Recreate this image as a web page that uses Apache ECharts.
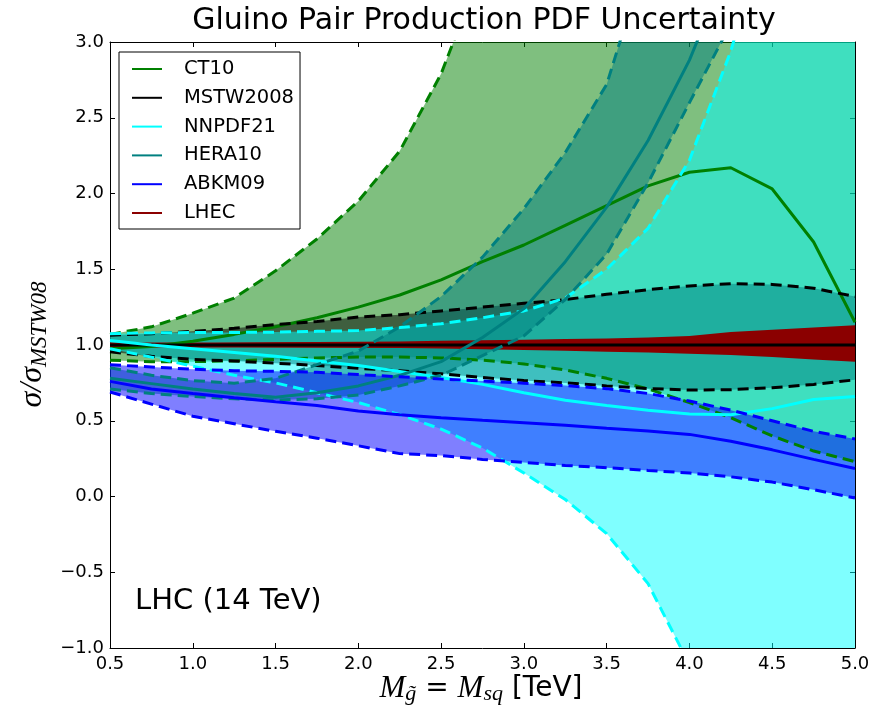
<!DOCTYPE html>
<html>
<head>
<meta charset="utf-8">
<script src="https://cdn.jsdelivr.net/npm/echarts@6/dist/echarts.min.js"></script>
<style>
  html, body { margin: 0; padding: 0; background: #fff; }
  #chart { width: 889px; height: 709px; }
</style>
</head>
<body>
<div id="chart"></div>
<script>
// Gluino mass grid [TeV]
const mass = [0.5, 0.75, 1.0, 1.25, 1.5, 1.75, 2.0, 2.25, 2.5, 2.75, 3.0, 3.25, 3.5, 3.75, 4.0, 4.25, 4.5, 4.75, 5.0];

// Cross-section ratios to MSTW08: central value and PDF uncertainty envelope
const ct10Central = [0.975, 0.99, 1.025, 1.07, 1.12, 1.18, 1.25, 1.33, 1.43, 1.55, 1.66, 1.79, 1.92, 2.05, 2.14, 2.17, 2.03, 1.68, 1.15];
const ct10Upper   = [1.07, 1.12, 1.21, 1.31, 1.49, 1.70, 1.95, 2.28, 2.79, 3.5, 4.3, 5.2, 6.2, 7.3, 8.5, 9.8, 11.2, 12.7, 14.3];
const ct10Lower   = [0.90, 0.89, 0.89, 0.895, 0.905, 0.915, 0.92, 0.92, 0.915, 0.90, 0.875, 0.835, 0.78, 0.71, 0.62, 0.52, 0.40, 0.30, 0.23];

const mstwCentral = [1, 1, 1, 1, 1, 1, 1, 1, 1, 1, 1, 1, 1, 1, 1, 1, 1, 1, 1];
const mstwUpper   = [1.065, 1.075, 1.09, 1.11, 1.135, 1.155, 1.185, 1.20, 1.225, 1.25, 1.275, 1.30, 1.335, 1.365, 1.39, 1.405, 1.40, 1.375, 1.32];
const mstwLower   = [0.955, 0.925, 0.905, 0.894, 0.88, 0.865, 0.846, 0.83, 0.81, 0.785, 0.765, 0.75, 0.73, 0.713, 0.703, 0.705, 0.718, 0.74, 0.77];

const nnpdfCentral = [1.03, 1.00, 0.975, 0.95, 0.925, 0.895, 0.865, 0.825, 0.785, 0.74, 0.685, 0.635, 0.60, 0.57, 0.545, 0.54, 0.58, 0.64, 0.66];
const nnpdfUpper   = [1.075, 1.08, 1.082, 1.083, 1.085, 1.09, 1.095, 1.115, 1.14, 1.18, 1.225, 1.31, 1.50, 1.77, 2.22, 2.94, 3.9, 5.0, 6.3];
const nnpdfLower   = [0.975, 0.92, 0.86, 0.80, 0.75, 0.685, 0.62, 0.54, 0.445, 0.32, 0.155, -0.02, -0.245, -0.575, -1.11, -1.9, -2.8, -3.9, -5.2];

const heraCentral = [0.78, 0.745, 0.71, 0.68, 0.655, 0.685, 0.73, 0.80, 0.89, 1.05, 1.24, 1.55, 1.91, 2.35, 2.88, 3.55, 4.3, 5.2, 6.2];
const heraUpper   = [0.85, 0.80, 0.765, 0.748, 0.78, 0.87, 0.96, 1.12, 1.32, 1.58, 1.90, 2.27, 2.72, 3.6, 4.5, 5.5, 6.7, 8.0, 9.5];
const heraLower   = [0.71, 0.68, 0.66, 0.645, 0.637, 0.645, 0.67, 0.73, 0.80, 0.93, 1.06, 1.30, 1.60, 2.07, 2.60, 3.12, 3.8, 4.6, 5.5];

const abkmCentral = [0.76, 0.71, 0.68, 0.652, 0.625, 0.60, 0.565, 0.54, 0.52, 0.503, 0.487, 0.47, 0.45, 0.432, 0.41, 0.365, 0.308, 0.245, 0.185];
const abkmUpper   = [0.87, 0.855, 0.84, 0.83, 0.826, 0.82, 0.805, 0.79, 0.775, 0.762, 0.748, 0.732, 0.712, 0.68, 0.63, 0.57, 0.50, 0.43, 0.38];
const abkmLower   = [0.69, 0.61, 0.53, 0.48, 0.43, 0.385, 0.335, 0.283, 0.27, 0.245, 0.225, 0.205, 0.19, 0.172, 0.155, 0.13, 0.095, 0.045, -0.01];

const lhecCentral = [1, 1, 1, 1, 1, 1, 1, 1, 1, 1, 1, 1, 1, 1, 1, 1, 1, 1, 1];
const lhecUpper   = [1.008, 1.01, 1.012, 1.015, 1.018, 1.02, 1.022, 1.023, 1.028, 1.032, 1.035, 1.04, 1.043, 1.05, 1.06, 1.085, 1.10, 1.115, 1.13];
const lhecLower   = [0.992, 0.99, 0.988, 0.986, 0.985, 0.984, 0.982, 0.98, 0.977, 0.972, 0.967, 0.962, 0.956, 0.95, 0.943, 0.934, 0.92, 0.905, 0.89];

const pdfNames = ['CT10', 'MSTW2008', 'NNPDF21', 'HERA10', 'ABKM09', 'LHEC'];
const xTicks = { min: 0.5, max: 5.0, step: 0.5 };
const yTicks = { min: -1.0, max: 3.0, step: 0.5 };

const pdfSets = [
  { name: 'CT10',     color: '#008000', central: ct10Central,  upper: ct10Upper,  lower: ct10Lower,  alpha: 0.5 },
  { name: 'MSTW2008', color: '#000000', central: mstwCentral,  upper: mstwUpper,  lower: mstwLower,  alpha: 0.5 },
  { name: 'NNPDF21',  color: '#00ffff', central: nnpdfCentral, upper: nnpdfUpper, lower: nnpdfLower, alpha: 0.5 },
  { name: 'HERA10',   color: '#008080', central: heraCentral,  upper: heraUpper,  lower: heraLower,  alpha: 0.5 },
  { name: 'ABKM09',   color: '#0000ff', central: abkmCentral,  upper: abkmUpper,  lower: abkmLower,  alpha: 0.5 }
];
const lhec = { name: 'LHEC', color: '#8b0000', central: lhecCentral, upper: lhecUpper, lower: lhecLower, alpha: 1 };

// Filled envelope between lower and upper curve, mapped through the cartesian axes
function band(set) {
  return {
    type: 'custom',
    name: set.name + ' band',
    coordinateSystem: 'cartesian2d',
    clip: true,
    silent: true,
    z: 1,
    data: [[mass[0], set.lower[0]]],
    renderItem: function (params, api) {
      const pts = [];
      for (let i = 0; i < mass.length; i++) pts.push(api.coord([mass[i], set.upper[i]]));
      for (let i = mass.length - 1; i >= 0; i--) pts.push(api.coord([mass[i], set.lower[i]]));
      return { type: 'polygon', shape: { points: pts }, style: { fill: set.color, opacity: set.alpha } };
    }
  };
}

function curve(name, values, color, width, dashed) {
  return {
    type: 'line',
    name: name,
    data: mass.map((m, i) => [m, values[i]]),
    symbol: 'none',
    showSymbol: false,
    clip: true,
    silent: true,
    z: 3,
    lineStyle: { color: color, width: width, type: dashed ? [11, 6] : 'solid' },
    itemStyle: { color: color }
  };
}

const series = [];
pdfSets.forEach(s => series.push(band(s)));
series.push(band(lhec));
series.push(curve('LHEC', lhec.central, lhec.color, 5, false));
pdfSets.forEach(s => {
  series.push(curve(s.name + ' upper', s.upper, s.color, 3, true));
  series.push(curve(s.name + ' lower', s.lower, s.color, 3, true));
  series.push(curve(s.name, s.central, s.color, 3, false));
});

const tickFont = { fontFamily: 'DejaVu Sans', fontSize: 18, color: '#000' };
const frameLine = { show: true, onZero: false, lineStyle: { color: '#000', width: 1 } };
const ticks = { show: true, inside: true, length: 5, lineStyle: { color: '#000', width: 1 } };
const fmt = v => (v < 0 ? '\u2212' : '') + Math.abs(v).toFixed(1);

const chart = echarts.init(document.getElementById('chart'), null, { renderer: 'canvas' });
chart.setOption({
  animation: false,
  backgroundColor: '#fff',
  grid: { left: 110, right: 34, top: 42, bottom: 61, containLabel: false },
  xAxis: [
    { type: 'value', position: 'bottom', min: xTicks.min, max: xTicks.max, interval: xTicks.step,
      axisLine: frameLine, axisTick: ticks, splitLine: { show: false },
      axisLabel: Object.assign({ margin: 7, formatter: fmt, showMinLabel: true, showMaxLabel: true }, tickFont) },
    { type: 'value', position: 'top', min: xTicks.min, max: xTicks.max, interval: xTicks.step,
      axisLine: frameLine, axisTick: ticks, splitLine: { show: false }, axisLabel: { show: false } }
  ],
  yAxis: [
    { type: 'value', position: 'left', min: yTicks.min, max: yTicks.max, interval: yTicks.step,
      axisLine: frameLine, axisTick: ticks, splitLine: { show: false },
      axisLabel: Object.assign({ margin: 6, formatter: fmt, showMinLabel: true, showMaxLabel: true }, tickFont) },
    { type: 'value', position: 'right', min: yTicks.min, max: yTicks.max, interval: yTicks.step,
      axisLine: frameLine, axisTick: ticks, splitLine: { show: false }, axisLabel: { show: false } }
  ],
  legend: {
    data: pdfNames,
    left: 119, top: 52,
    orient: 'vertical', align: 'left',
    itemWidth: 30, itemHeight: 4, itemGap: 8.8,
    padding: [7, 6, 6, 12],
    backgroundColor: '#fff', borderColor: '#000', borderWidth: 1, borderRadius: 0,
    selectedMode: false, z: 10,
    itemStyle: { opacity: 0 },
    textStyle: { fontFamily: 'DejaVu Sans', fontSize: 19.5, color: '#000', lineHeight: 20, padding: [0, 0, 0, 17] }
  },
  graphic: [
    { type: 'text', x: 484, y: 21, z: 10,
      style: { text: 'Gluino Pair Production PDF Uncertainty', fontFamily: 'DejaVu Sans', fontSize: 30,
               fill: '#000', align: 'center', verticalAlign: 'middle' } },
    { type: 'text', x: 135, y: 601, z: 10,
      style: { text: 'LHC (14 TeV)', fontFamily: 'DejaVu Sans', fontSize: 29,
               fill: '#000', align: 'left', verticalAlign: 'middle' } },
    { type: 'text', x: 481, y: 689, z: 10,
      style: { text: '{mi|M}{sub|g\u0303}{rm| = }{mi|M}{sub|sq}{rm| [TeV]}', align: 'center', verticalAlign: 'middle',
               rich: {
                 mi:  { fontFamily: 'Liberation Serif', fontStyle: 'italic', fontSize: 31, lineHeight: 32, fill: '#000' },
                 sub: { fontFamily: 'Liberation Serif', fontStyle: 'italic', fontSize: 22, lineHeight: 16, verticalAlign: 'bottom', fill: '#000' },
                 rm:  { fontFamily: 'DejaVu Sans', fontSize: 28, lineHeight: 32, fill: '#000' }
               } } },
    { type: 'text', x: 33, y: 344.5, rotation: Math.PI / 2, z: 10,
      style: { text: '{mi|\u03c3/\u03c3}{sub|MSTW08}', align: 'center', verticalAlign: 'middle',
               rich: {
                 mi:  { fontFamily: 'Liberation Serif', fontStyle: 'italic', fontSize: 32, lineHeight: 36, fill: '#000' },
                 sub: { fontFamily: 'Liberation Serif', fontStyle: 'italic', fontSize: 23, lineHeight: 16, verticalAlign: 'bottom', fill: '#000' }
               } } }
  ],
  series: series
});
</script>
</body>
</html>
